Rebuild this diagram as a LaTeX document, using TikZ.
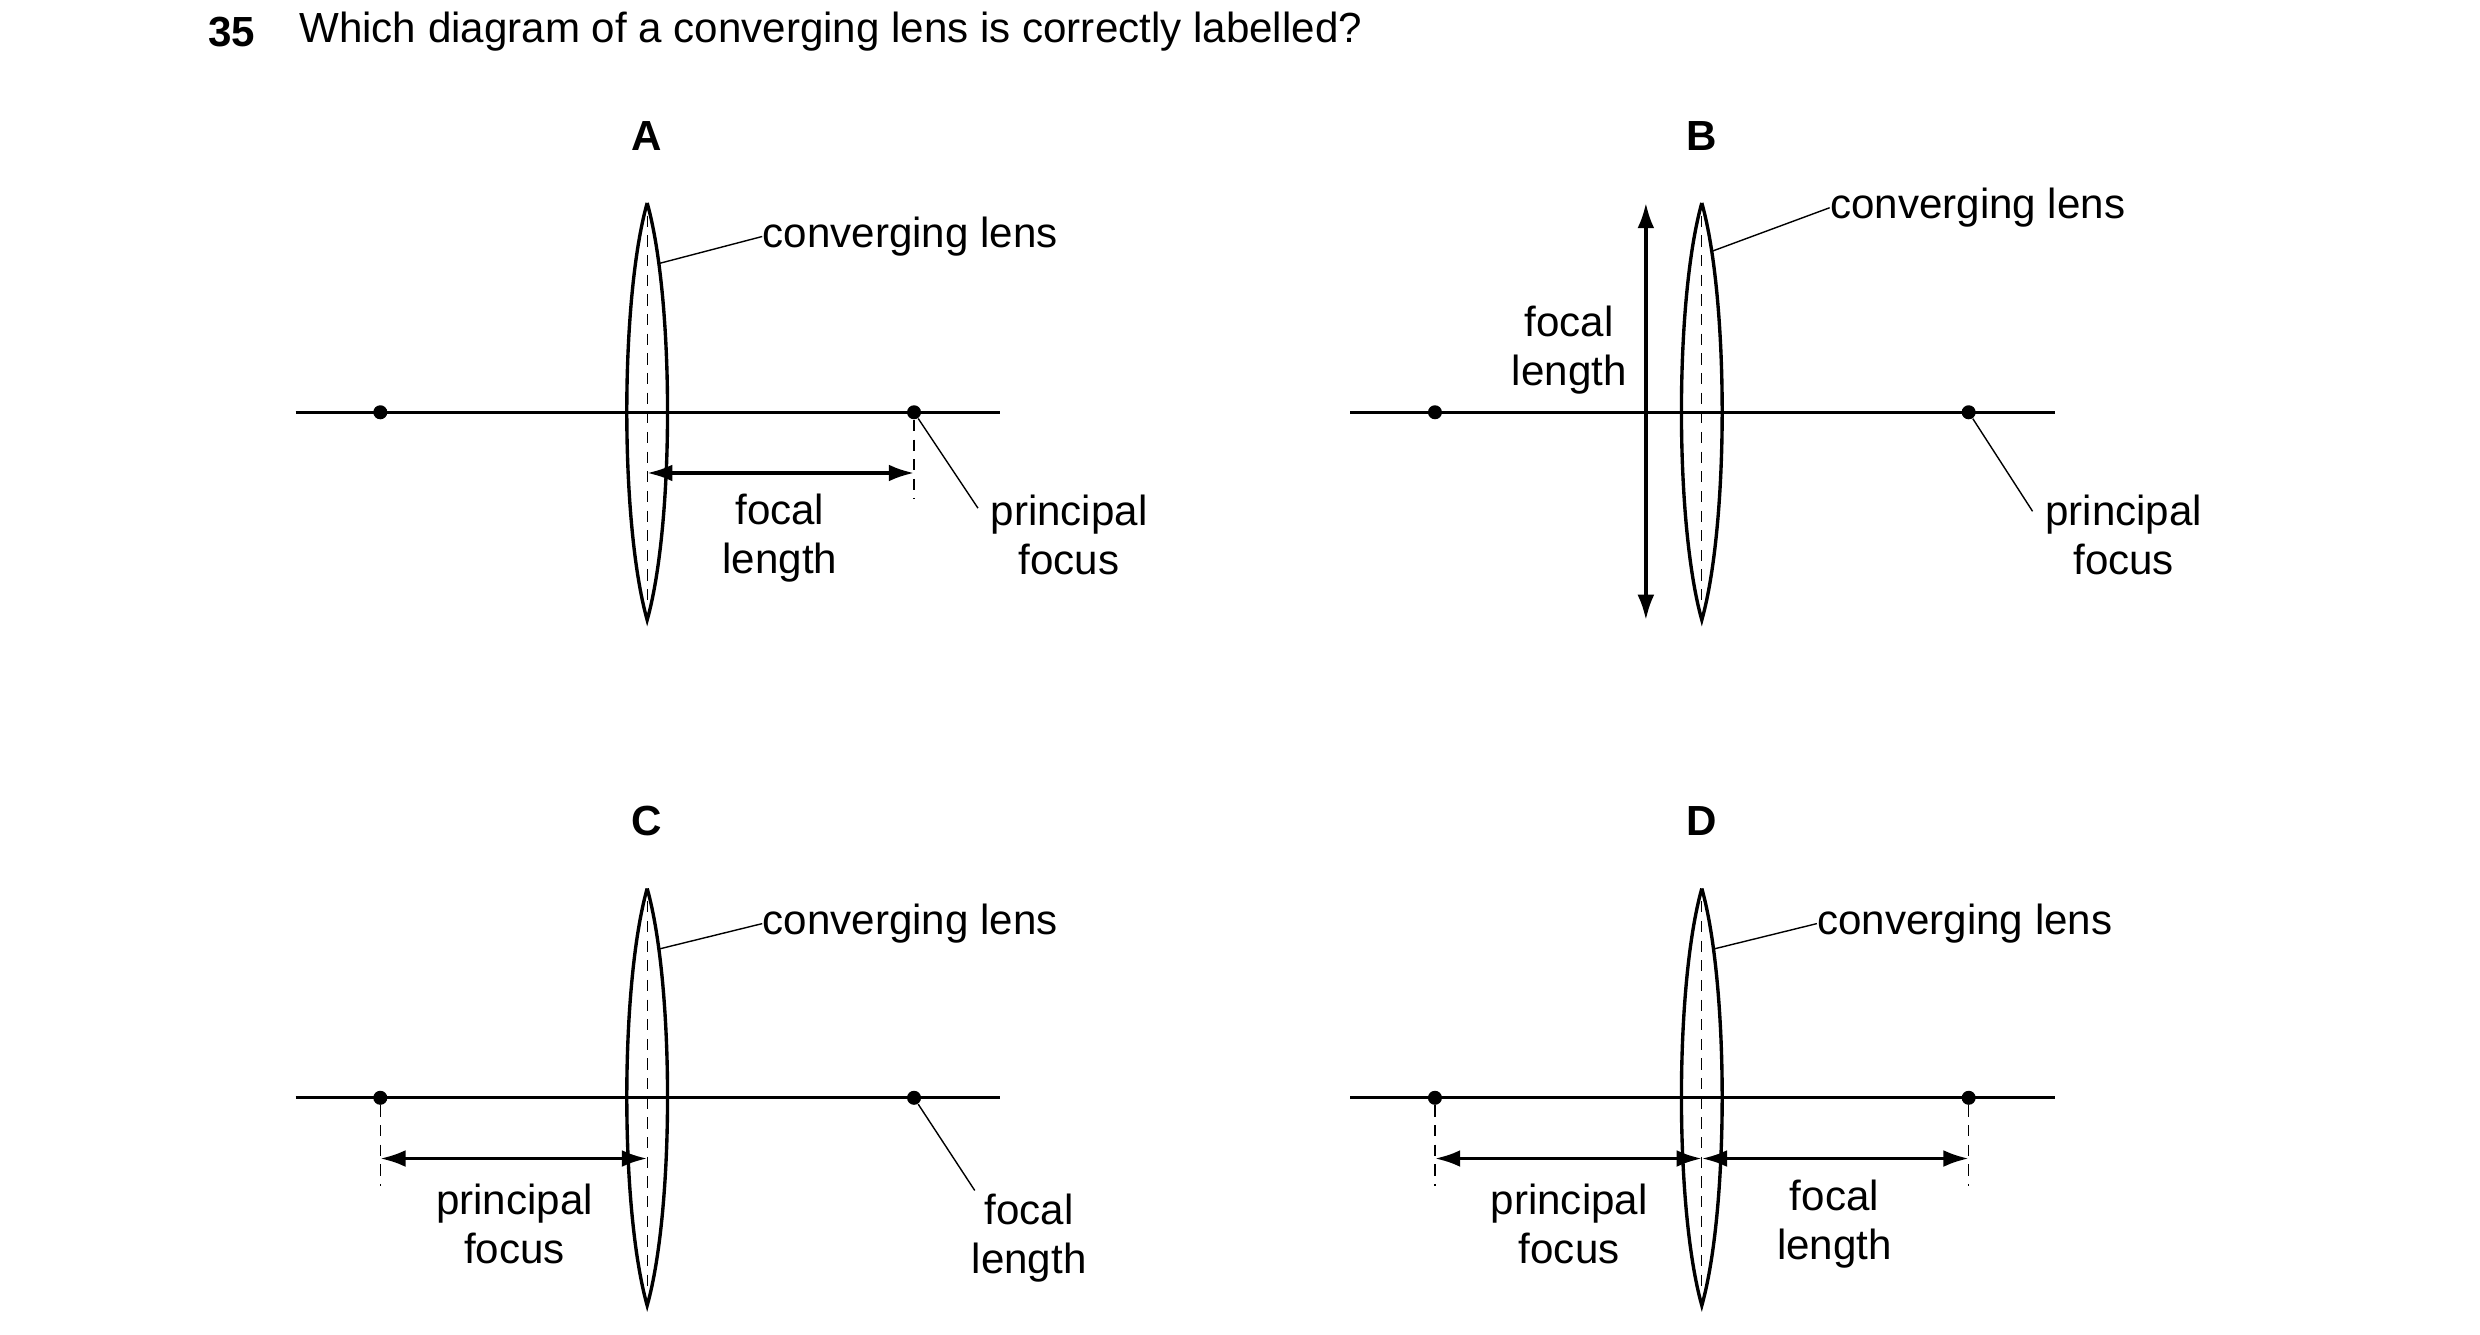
\documentclass[tikz,border=0pt]{standalone}
\usepackage{fontspec}
\setmainfont{Liberation Sans}
\usetikzlibrary{arrows.meta}
\begin{document}
\begin{tikzpicture}[x=0.02cm,y=-0.02cm,
  txt/.style={font=\fontsize{15}{17.5}\selectfont,align=center,inner sep=0},
  axisline/.style={line width=1.2pt},
  lensline/.style={line width=1.2pt},
  leader/.style={line width=0.5pt},
  dashline/.style={line width=0.4pt,dash pattern=on 4pt off 3pt},
  dimarrow/.style={line width=1.2pt,{Latex[length=9pt,width=6pt]}-{Latex[length=9pt,width=6pt]}},
  dot/.style={circle,fill,inner sep=0,minimum size=5pt}]
\useasboundingbox (0,0) rectangle (1552,835);
\node[txt,anchor=west,font=\fontsize{15}{17.5}\selectfont\bfseries] (num) at (130,20) {35};
\node[txt,anchor=west] (title) at (187,20) {Which diagram of a converging lens is correctly labelled?};
\newcommand{\lens}[3]{% x, ytop, ybottom
  \draw[lensline] (#1,#2) .. controls (#1+17,{(#2+#3)/2-70}) and (#1+17,{(#2+#3)/2+70}) .. (#1,#3)
     .. controls (#1-17,{(#2+#3)/2+70}) and (#1-17,{(#2+#3)/2-70}) .. (#1,#2);
  \draw[dashline] (#1,#2+8) -- (#1,#3-8);}
% ---------- A
\node[txt,font=\fontsize{15}{17.5}\selectfont\bfseries] (la) at (405,85) {A};
\draw[axisline] (185,258) -- (626,258);
\lens{405}{127}{388}
\node[dot] (a1) at (238,258) {};
\node[dot] (a2) at (572,258) {};
\coordinate (ac) at (405,296);
\coordinate (af) at (572,296);
\draw[dashline] (a2) -- (572,312);
\draw[dimarrow] (ac) -- (af);
\node[txt] (afl) at (488,337) {focal\\length};
\node[txt] (apf) at (669,335) {principal\\focus};
\draw[leader] (a2) -- (612,318);
\coordinate (acl) at (412,165);
\node[txt,anchor=west] (alens) at (477,148) {converging lens};
\draw[leader] (acl) -- (alens.west);
% ---------- B
\node[txt,font=\fontsize{15}{17.5}\selectfont\bfseries] (lb) at (1065,85) {B};
\draw[axisline] (845,258) -- (1286,258);
\lens{1065}{127}{388}
\node[dot] (b1) at (898,258) {};
\node[dot] (b2) at (1232,258) {};
\coordinate (bt) at (1030,127);
\coordinate (bb) at (1030,388);
\draw[dimarrow] (bt) -- (bb);
\node[txt,fill=white,inner sep=2pt] (bfl) at (982,219) {focal\\length};
\node[txt] (bpf) at (1329,335) {principal\\focus};
\draw[leader] (b2) -- (1272,320);
\coordinate (bcl) at (1072,157);
\node[txt,anchor=west] (blens) at (1145,130) {converging lens};
\draw[leader] (bcl) -- (blens.west);
% ---------- C
\node[txt,font=\fontsize{15}{17.5}\selectfont\bfseries] (lc) at (405,514) {C};
\draw[axisline] (185,687) -- (626,687);
\lens{405}{556}{817}
\node[dot] (c1) at (238,687) {};
\node[dot] (c2) at (572,687) {};
\coordinate (cl) at (238,725);
\coordinate (cc) at (405,725);
\draw[dashline] (c1) -- (238,742);
\draw[dimarrow] (cl) -- (cc);
\node[txt] (cpf) at (322,766) {principal\\focus};
\node[txt] (cfl) at (644,775) {focal\\length};
\draw[leader] (c2) -- (610,745);
\coordinate (ccl) at (412,594);
\node[txt,anchor=west] (clens) at (477,578) {converging lens};
\draw[leader] (ccl) -- (clens.west);
% ---------- D
\node[txt,font=\fontsize{15}{17.5}\selectfont\bfseries] (ld) at (1065,514) {D};
\draw[axisline] (845,687) -- (1286,687);
\lens{1065}{556}{817}
\node[dot] (d1) at (898,687) {};
\node[dot] (d2) at (1232,687) {};
\coordinate (dl) at (898,725);
\coordinate (dc) at (1065,725);
\coordinate (dr) at (1232,725);
\draw[dashline] (d1) -- (898,742);
\draw[dashline] (d2) -- (1232,742);
\draw[dimarrow] (dl) -- (dc);
\draw[dimarrow] (dc) -- (dr);
\node[txt] (dpf) at (982,766) {principal\\focus};
\node[txt] (dfl) at (1148,766) {focal\\length};
\coordinate (dcl) at (1072,594);
\node[txt,anchor=west] (dlens) at (1137,578) {converging lens};
\draw[leader] (dcl) -- (dlens.west);
\end{tikzpicture}
\end{document}
